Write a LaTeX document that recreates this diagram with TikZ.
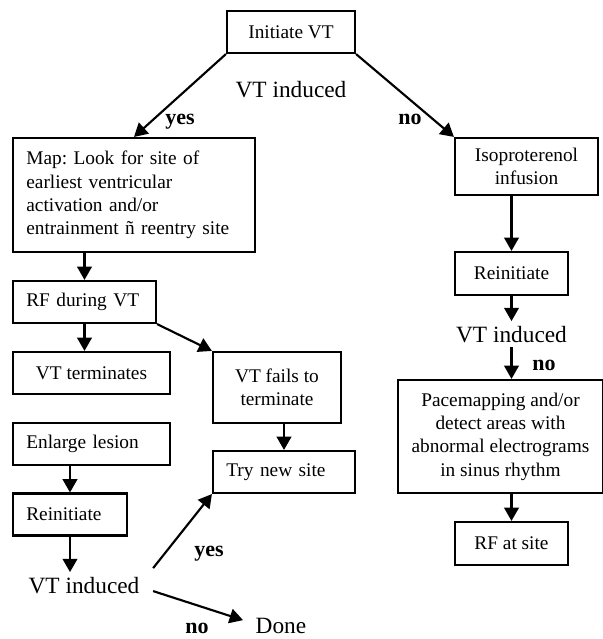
\documentclass[tikz,border=0pt]{standalone}
\usepackage{fontspec}
\setmainfont{Liberation Serif}
\usetikzlibrary{arrows.meta}
\frenchspacing

\begin{document}
\begin{tikzpicture}[x=0.75pt,y=-0.75pt,
  box/.style={draw,line width=1.6pt,inner xsep=12pt,inner ysep=0pt,minimum height=31.5pt,align=center,font=\fontsize{14.5}{17.5}\selectfont},
  lbox/.style={box,align=left,inner xsep=10pt,text width=#1},
  big/.style={font=\fontsize{17.5}{21}\selectfont,anchor=base},
  ans/.style={font=\fontsize{16.5}{20}\selectfont\bfseries,anchor=base},
  arr/.style={line width=1.6pt,-{Triangle[length=10pt,width=11pt]}}]
\useasboundingbox (0,0) rectangle (603,639);
\node[box,minimum width=96pt] (init) at (291,32) {Initiate VT};
\node[big] (vta) at (291,97) {VT induced};
\node[ans] (yesa) at (180,124) {yes};
\node[ans] (noa) at (410,124) {no};
\node[lbox=161.5pt,minimum height=85.5pt] (map) at (134,195) {Map: Look for site of\\earliest ventricular\\activation and/or\\entrainment ñ reentry site};
\node[box,minimum width=107.25pt,minimum height=42.75pt] (iso) at (526.5,166.5) {Isoproterenol\\infusion};
\node[box,minimum width=84.75pt,minimum height=32.25pt] (reinitb) at (511.5,273.5) {Reinitiate};
\node[big] (vtb) at (511.5,342) {VT induced};
\node[ans] (nob) at (544,370) {no};
\node[box,inner xsep=6pt,minimum width=153.75pt,minimum height=84.75pt] (pace) at (500.5,436.5) {Pacemapping and/or\\detect areas with\\abnormal electrograms\\in sinus rhythm};
\node[lbox=87.25pt] (rfvt) at (84.5,302) {RF during VT};
\node[box,minimum width=117.75pt] (term) at (91.5,373) {VT terminates};
\node[box,minimum width=96pt,minimum height=53.25pt] (fails) at (277,387.5) {VT fails to\\terminate};
\node[lbox=97.75pt] (enlarge) at (91.5,444) {Enlarge lesion};
\node[lbox=86.5pt] (trynew) at (284,472) {Try new site};
\node[lbox=65.5pt] (reinita) at (70,514.5) {Reinitiate};
\node[box,minimum width=84.75pt,minimum height=32.25pt] (rfsite) at (511.5,543.5) {RF at site};
\node[big] (vtc) at (84,593) {VT induced};
\node[ans] (yesb) at (209,556) {yes};
\node[ans] (noc) at (197,633) {no};
\node[big] (done) at (281,633) {Done};
\draw[arr] (init.south west) -- (map.north);
\draw[arr] (init.south east) -- (iso.north west);
\draw[arr] (map.south -| rfvt.north) -- (rfvt.north);
\draw[arr] (rfvt.south) -- (rfvt.south |- term.north);
\draw[arr] (rfvt.south east) -- (fails.north west);
\draw[arr] (fails.south -| trynew.north) -- (trynew.north);
\draw[arr] (enlarge.south -| reinita.north) -- (reinita.north);
\draw[arr] (reinita.south) -- (reinita.south |- vtc.north);
\draw[arr] ([xshift=6.75pt,yshift=3pt]vtc.north east) -- (trynew.south west);
\draw[arr] ([xshift=6.75pt,yshift=-4.5pt]vtc.east) -- ([xshift=-6pt,yshift=4pt]done.west);
\draw[arr] (iso.south -| reinitb.north) -- (reinitb.north);
\draw[arr] (reinitb.south) -- (vtb.north);
\draw[arr] (vtb.south) -- (vtb.south |- pace.north);
\draw[arr] (pace.south -| rfsite.north) -- (rfsite.north);
\end{tikzpicture}
\end{document}
